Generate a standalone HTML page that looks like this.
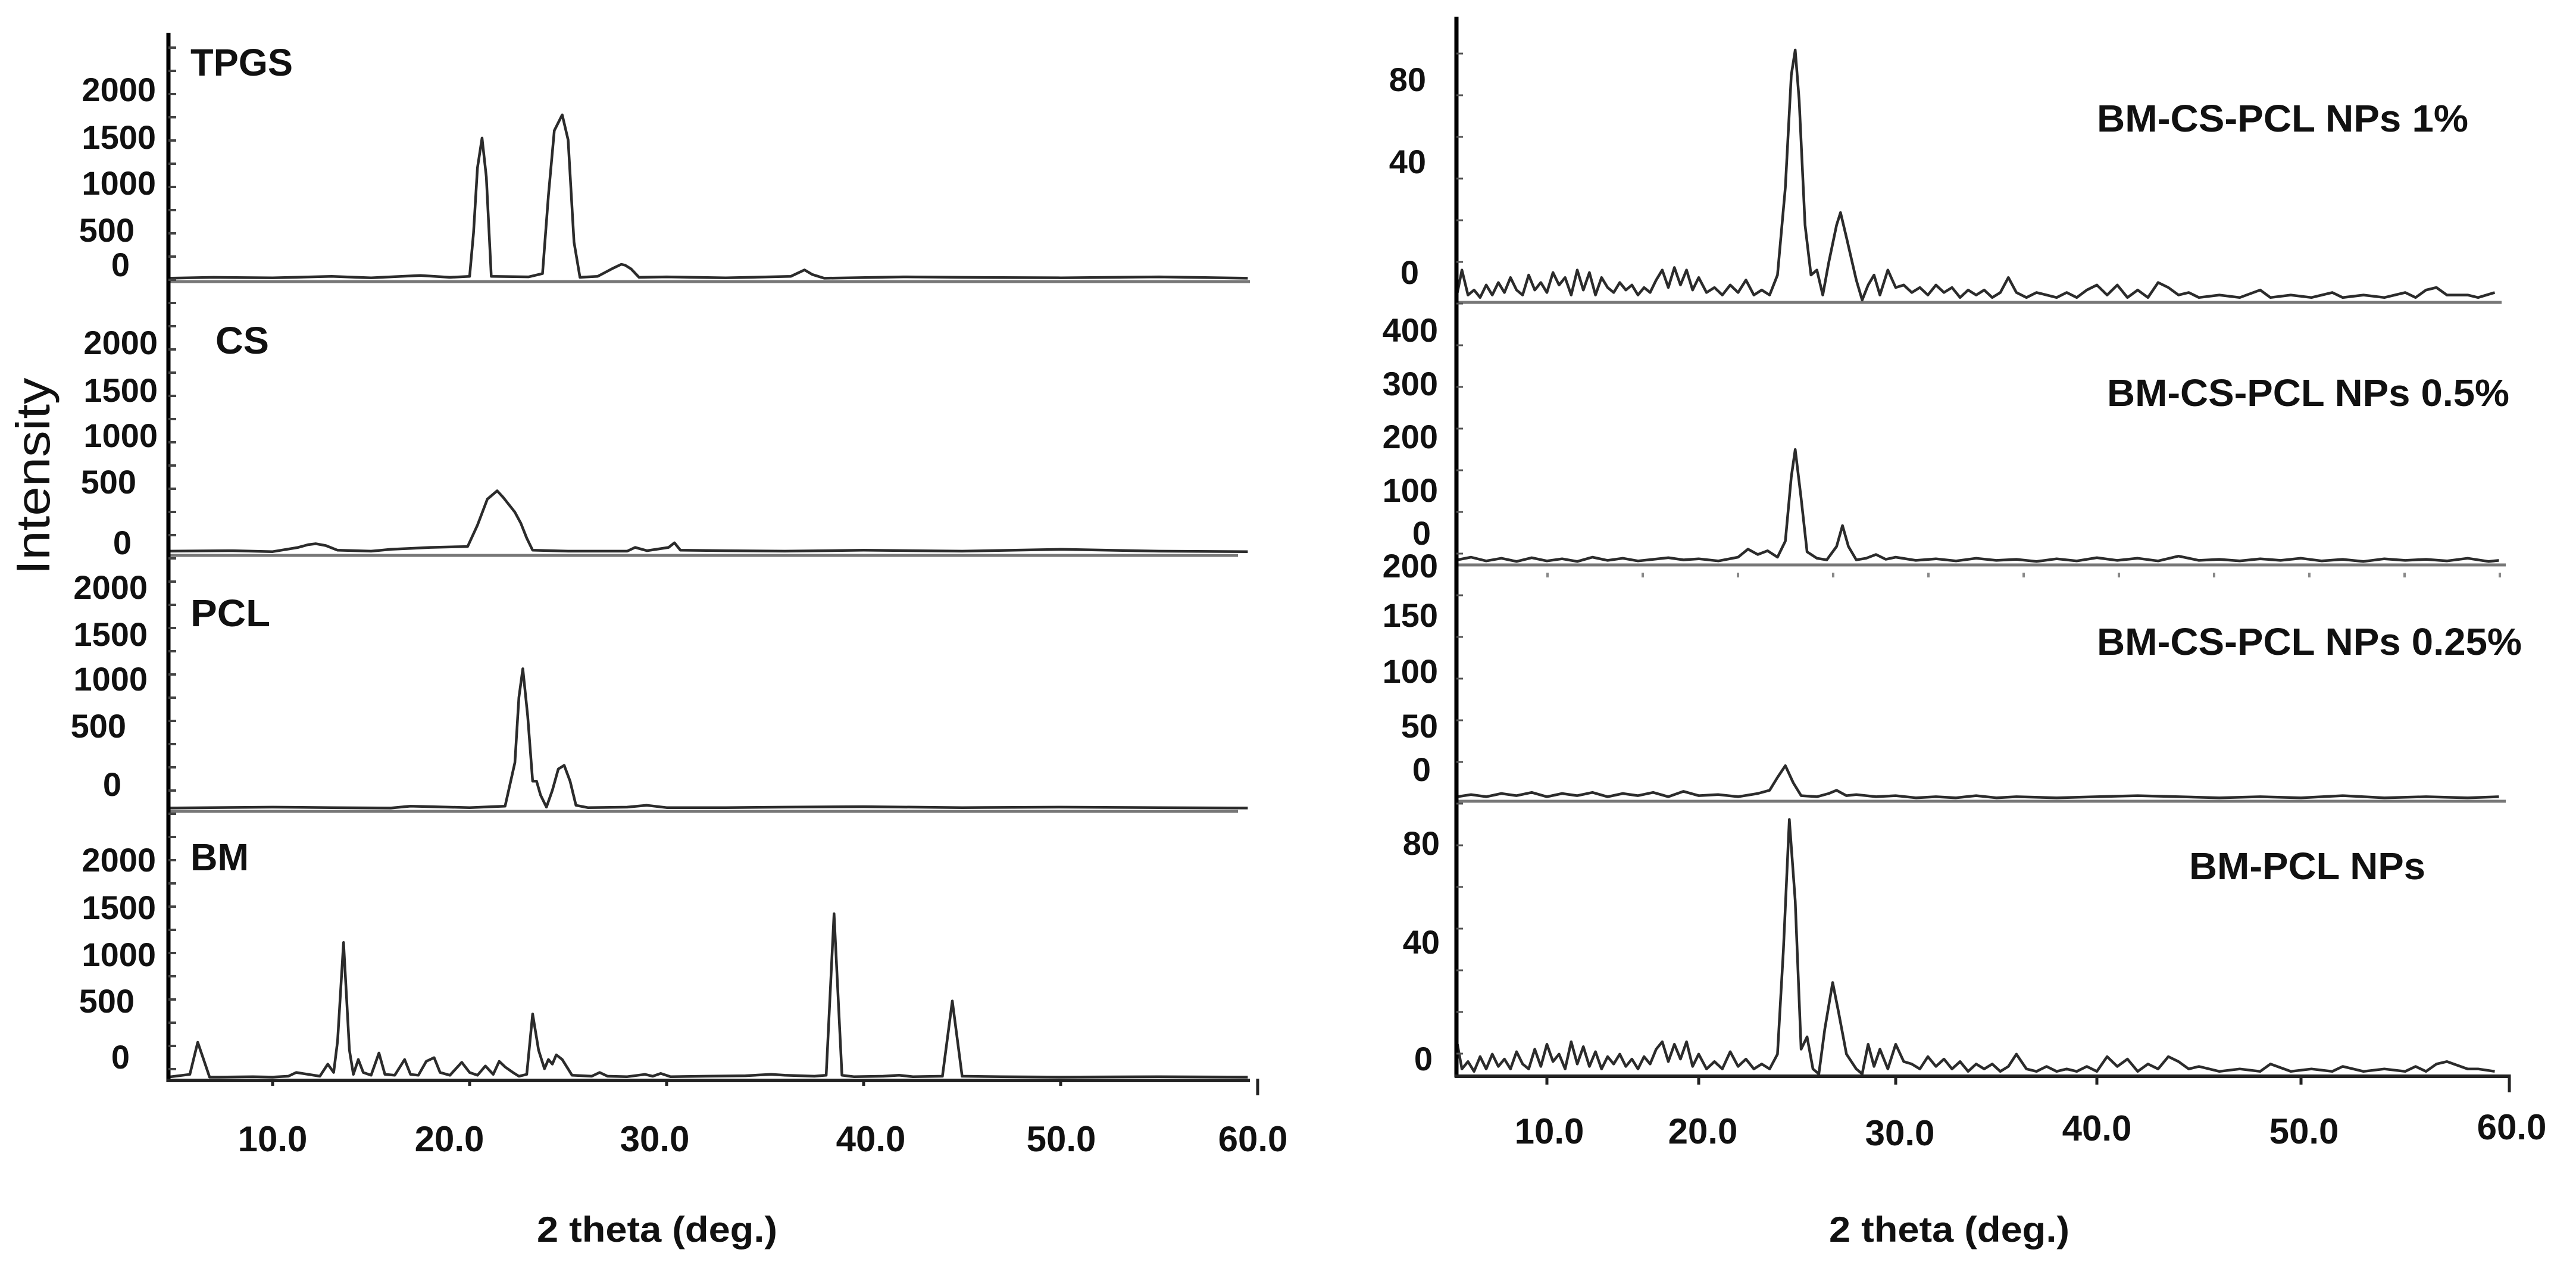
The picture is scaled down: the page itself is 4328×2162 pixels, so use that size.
<!DOCTYPE html>
<html><head><meta charset="utf-8"><style>
html,body{margin:0;padding:0;background:#fff;}
svg{display:block;font-family:"Liberation Sans",Arial,sans-serif;}
</style></head><body>
<svg id="fig" width="4328" height="2162" viewBox="0 0 4328 2162" xmlns="http://www.w3.org/2000/svg">
<rect width="4328" height="2162" fill="#fff"/>
<g id="left"></g>
<g id="right"></g>
</svg>
<script>
// ---------- DATA: left chart ----------
const tpgsTheta = [4.7,7,10,13,15,17.5,19,20,20.2,20.4,20.63,20.85,21.1,23,23.7,24.0,24.3,24.7,25.0,25.3,25.6,26.5,27.3,27.7,27.9,28.2,28.6,30,33,36.3,36.7,37.0,37.4,38,42,45,50,55,59.5];
const tpgsVals  = [10,20,15,30,15,40,20,30,500,1200,1520,1100,30,25,60,900,1600,1770,1500,400,20,30,120,160,150,110,20,25,15,30,70,100,50,10,25,20,15,25,10];
const csTheta = [4.7,8,10,11.3,11.8,12.2,12.7,13.3,15,16,17,18,19.9,20.4,20.9,21.4,21.7,22.0,22.3,22.6,22.9,23.2,25,28,28.4,29,30.1,30.4,30.7,33,36,40,45,50,55,59.5];
const csVals  = [20,25,15,60,90,100,80,30,20,40,50,60,70,300,580,670,600,520,440,320,160,30,20,20,60,25,60,110,30,25,20,30,20,40,20,15];
const pclTheta = [4.7,10,13,16,17,20,21.8,22.3,22.5,22.7,22.95,23.2,23.4,23.6,23.9,24.2,24.5,24.8,25.1,25.4,26,28,29,30,33,36,40,45,50,55,59.5];
const pclVals  = [10,20,15,10,30,15,30,500,1200,1510,1000,300,300,150,20,200,430,470,300,40,15,20,40,15,15,20,25,15,20,15,10];
const bmTheta = [4.7,5.8,6.2,6.5,6.8,7.3,9,10,10.8,11.2,12.4,12.8,13.1,13.3,13.6,13.9,14.1,14.35,14.6,15.0,15.4,15.7,16.2,16.7,17.0,17.4,17.8,18.2,18.5,19.0,19.6,20.0,20.4,20.8,21.2,21.5,21.8,22.2,22.5,22.9,23.2,23.5,23.8,24.0,24.2,24.4,24.7,25.2,26.2,26.6,27.0,28.0,28.9,29.3,29.7,30.2,32,34,35.3,36,37.5,38.1,38.5,38.9,39.5,41.0,41.8,42.5,44.0,44.5,45.0,47,50,55,59.5];
const bmVals  = [10,40,385,200,10,10,15,10,20,60,20,150,60,400,1460,300,40,200,60,30,270,40,30,200,40,30,180,220,60,30,170,60,30,130,40,180,120,60,20,40,690,300,100,200,150,250,200,30,20,60,20,15,40,20,50,15,20,25,40,30,20,30,1770,30,15,20,30,15,20,830,20,15,10,15,10];

// ---------- DATA: right chart ----------
const r1Theta = [4.1,4.4,4.8,5.2,5.6,6,6.4,6.8,7.2,7.6,8,8.4,8.8,9.2,9.6,10,10.4,10.8,11.2,11.6,12,12.4,12.8,13.2,13.6,14,14.4,14.8,15.2,15.6,16,16.4,16.8,17.2,17.6,18,18.4,18.8,19.2,19.6,20,20.4,20.8,21.2,21.6,22,22.4,22.8,23.2,23.6,24,24.4,24.7,24.9,25.1,25.4,25.7,26,26.3,26.6,27,27.2,27.5,28,28.3,28.6,28.9,29.2,29.6,30,30.4,30.8,31.2,31.6,32,32.4,32.8,33.2,33.6,34,34.4,34.8,35.2,35.6,36,36.5,37,37.5,38,38.5,39,39.5,40,40.5,41,41.5,42,42.5,43,43.5,44,44.5,45,46,47,48,48.5,49.5,50.5,51.5,52,53,54,55,55.5,56,56.5,57,58,58.5,59.3];
const r1Vals  = [3,12,2,4,1,6,2,7,3,9,4,2,10,4,7,3,11,6,9,2,12,4,11,2,9,5,3,7,4,6,2,5,3,8,12,5,13,6,12,4,9,3,5,2,6,3,8,2,4,2,10,45,90,100,80,30,10,12,2,15,30,35,25,8,0,6,10,2,12,5,6,3,5,2,6,3,5,1,4,2,4,1,3,9,3,1,3,2,1,3,1,4,6,2,6,1,4,1,7,5,2,3,1,2,1,4,1,2,1,3,1,2,1,3,1,4,5,2,2,1,3];
const r2Theta = [4.1,5,6,7,8,9,10,11,12,13,14,15,16,17,18,19,20,21,22,22.5,23,23.5,24,24.4,24.7,24.9,25.2,25.5,26,26.5,27,27.3,27.6,28,28.5,29,29.5,30,31,32,33,34,35,36,37,38,39,40,41,42,43,44,45,46,47,48,49,50,51,52,53,54,55,56,57,58,59,59.5];
const r2Vals  = [5,10,3,8,2,9,3,7,2,10,4,8,3,6,9,5,7,3,10,25,15,22,10,40,160,211,120,20,8,5,30,69,30,5,8,15,6,10,4,7,3,8,4,6,2,7,3,9,4,8,3,12,4,6,3,7,4,8,3,6,2,7,4,6,3,8,2,4];
const r3Theta = [4.1,5,6,7,8,9,10,11,12,13,14,15,16,17,18,19,20,21,22,23,23.6,24.0,24.4,24.8,25.2,26,26.6,27,27.5,28,29,30,31,32,33,34,35,36,38,40,42,44,46,48,50,52,54,56,58,59.5];
const r3Vals  = [2,4,2,5,3,6,2,5,3,6,2,5,3,6,2,7,3,4,2,5,8,20,31,15,3,2,5,8,3,4,2,3,1,2,1,3,1,2,1,2,3,2,1,2,1,3,1,2,1,2];
const r4Theta = [4.1,4.4,4.8,5.2,5.6,6,6.4,6.8,7.2,7.6,8,8.4,8.8,9.2,9.6,10,10.4,10.8,11.2,11.6,12,12.4,12.8,13.2,13.6,14,14.4,14.8,15.2,15.6,16,16.4,16.8,17.2,17.6,18,18.4,18.8,19.2,19.6,20,20.4,20.8,21.2,21.6,22,22.4,22.8,23.2,23.6,24,24.3,24.6,24.9,25.2,25.5,25.8,26.1,26.4,26.8,27.1,27.5,28,28.3,28.6,28.9,29.2,29.6,30,30.4,30.8,31.2,31.6,32,32.4,32.8,33.2,33.6,34,34.4,34.8,35.2,35.6,36,36.5,37,37.5,38,38.5,39,39.5,40,40.5,41,41.5,42,42.5,43,43.5,44,44.5,45,46,47,48,48.5,49.5,50.5,51.5,52,53,54,55,55.5,56,56.5,57,58,58.5,59.3];
const r4Vals  = [12,2,5,1,7,2,8,3,6,2,9,4,2,10,3,12,5,8,2,13,4,11,3,9,2,7,4,8,3,6,2,7,4,10,13,5,12,6,13,3,8,2,5,2,9,3,6,2,4,2,8,50,103,70,10,15,2,0,18,37,25,8,2,0,12,3,10,2,12,5,4,2,7,3,6,2,5,1,4,2,4,1,3,8,2,1,3,1,2,1,3,1,7,3,6,1,4,2,7,5,2,3,1,2,1,4,1,2,1,3,1,2,1,3,1,4,5,2,2,1,3];

const leftTicks = ['2000','1500','1000','500','0'];
const r1Ticks = ['80','40','0'];
const r2Ticks = ['400','300','200','100','0'];
const r3Ticks = ['200','150','100','50','0'];
const r4Ticks = ['80','40','0'];
const xTickLabels = ['10.0','20.0','30.0','40.0','50.0','60.0'];
const xTickVals = [10,20,30,40,50,60];

// ---------- helpers ----------
const NS='http://www.w3.org/2000/svg';
function mk(parent,tag,attrs,txt){const e=document.createElementNS(NS,tag);for(const k in attrs)e.setAttribute(k,attrs[k]);if(txt!==undefined)e.textContent=txt;parent.appendChild(e);return e;}
const L=document.getElementById('left'), R=document.getElementById('right');

// left axis functions
function xL(t){return 458+(t-10)*33.1;}
const kL=0.156;
// right axis functions (piecewise through tick positions)
const rTickPx=[2599,2854,3185,3523,3866,4216];
function xR(t){
  if(t<=10) return rTickPx[0]+(t-10)*25.5;
  for(let i=0;i<5;i++){ if(t<=xTickVals[i+1]) return rTickPx[i]+(t-xTickVals[i])/10*(rTickPx[i+1]-rTickPx[i]); }
  return rTickPx[5]+(t-60)*35;
}

function drawSeries(g,name,xs,ys,xf,base,k){
  let pts=[];
  for(let i=0;i<xs.length;i++) pts.push(xf(xs[i]).toFixed(1)+','+(base-ys[i]*k).toFixed(1));
  const p=mk(g,'polyline',{points:pts.join(' '),fill:'none',stroke:'#2b2b2b','stroke-width':4.5,'stroke-linejoin':'round'});
  
  
}
function baseline(g,name,x1,x2,y){
  const l=mk(g,'line',{x1:x1,x2:x2,y1:y,y2:y,stroke:'#777','stroke-width':5});
  
  
}
function label(g,name,x,y,txt,size,anchor,len){
  const a={x:x,y:y,'font-size':size,'font-weight':'bold','text-anchor':anchor||'end','dominant-baseline':'middle',fill:'#111'};
  if(len){a.textLength=len;a.lengthAdjust='spacingAndGlyphs';}
  const t=mk(g,'text',a,txt);
  
  
  return t;
}

// ---------- LEFT ----------
const lBase=[473,933,1363,1815];
baseline(L,'tpgs-baseline',283,2100,lBase[0]);
baseline(L,'cs-baseline',283,2080,lBase[1]);
baseline(L,'pcl-baseline',283,2080,lBase[2]);
drawSeries(L,'tpgs-pattern',tpgsTheta,tpgsVals,xL,lBase[0]-4,kL);
drawSeries(L,'cs-pattern',csTheta,csVals,xL,lBase[1]-4,kL);
drawSeries(L,'pcl-pattern',pclTheta,pclVals,xL,lBase[2]-4,kL);
drawSeries(L,'bm-pattern',bmTheta,bmVals,xL,lBase[3]-4,kL);
// axes
let ya=mk(L,'line',{x1:283,x2:283,y1:55,y2:1818,stroke:'#000','stroke-width':7});

let xa=mk(L,'line',{x1:280,x2:2100,y1:1815,y2:1815,stroke:'#222','stroke-width':6});

for(let y=80;y<1800;y+=39){mk(L,'line',{x1:283,x2:296,y1:y,y2:y,stroke:'#444','stroke-width':4});}
const lTickLbl=[[155,235,312,391,449],[580,660,736,814,916],[991,1070,1145,1224,1322],[1449,1529,1608,1686,1780]];
const lTickRight=[262,265,248,262];
const lNames=['tpgs','cs','pcl','bm'];
for(let p=0;p<4;p++) for(let i=0;i<leftTicks.length;i++){
  const xr = lTickRight[p] - (leftTicks[i]==='500'?36:0) - (leftTicks[i]==='0'?44:0);
  label(L,lNames[p]+'-y-tick-'+leftTicks[i],xr,lTickLbl[p][i],leftTicks[i],56,'end');
}
label(L,'tpgs-label',320,110,'TPGS',64,'start',172);
label(L,'cs-label',362,577,'CS',64,'start',90);
label(L,'pcl-label',320,1035,'PCL',64,'start',134);
label(L,'bm-label',320,1445,'BM',64,'start',98);
const lXLblPx=[458,755,1100,1463,1783,2105];
for(let i=0;i<xTickVals.length;i++){
  mk(L,'line',{x1:xL(xTickVals[i]),x2:xL(xTickVals[i]),y1:1812,y2:(i==5?1840:1824),stroke:'#222','stroke-width':5});
  label(L,'left-x-tick-'+xTickVals[i],lXLblPx[i],1918,xTickLabels[i],60,'middle');
}
label(L,'left-x-axis-title',1104,2070,'2 theta (deg.)',60,'middle',404);
let it=mk(L,'text',{x:0,y:0,'font-size':80,'text-anchor':'middle','dominant-baseline':'middle',fill:'#111',transform:'translate(62,800) rotate(-90)',textLength:331,lengthAdjust:'spacingAndGlyphs'},'Intensity');


// ---------- RIGHT ----------
const rBase=[508,949,1346,1808];
const rK=[4.2,0.9,1.8,4.15];
baseline(R,'np1-baseline',2447,4203,rBase[0]);
baseline(R,'np05-baseline',2447,4210,rBase[1]);
baseline(R,'np025-baseline',2447,4210,rBase[2]);
drawSeries(R,'np1-pattern',r1Theta,r1Vals,xR,rBase[0]-4,rK[0]);
drawSeries(R,'np05-pattern',r2Theta,r2Vals,xR,rBase[1]-4,rK[1]);
drawSeries(R,'np025-pattern',r3Theta,r3Vals,xR,rBase[2]-4,rK[2]);
drawSeries(R,'bm-pcl-pattern',r4Theta,r4Vals,xR,rBase[3]-4,rK[3]);
ya=mk(R,'line',{x1:2447,x2:2447,y1:28,y2:1810,stroke:'#000','stroke-width':7});

xa=mk(R,'line',{x1:2444,x2:4216,y1:1808,y2:1808,stroke:'#222','stroke-width':6});

for(let y=90;y<1800;y+=70){mk(R,'line',{x1:2447,x2:2458,y1:y,y2:y,stroke:'#555','stroke-width':3});}
for(let i=0;i<12;i++){mk(R,'line',{x1:2600+i*160,x2:2600+i*160,y1:962,y2:970,stroke:'#888','stroke-width':4});}
const rTickSets=[r1Ticks,r2Ticks,r3Ticks,r4Ticks];
const rTickLbl=[[138,276,462],[559,649,738,828,900],[955,1038,1132,1224,1297],[1421,1587,1783]];
const rRight=[2396,2416,2416,2419];
const rNames=['np1','np05','np025','bm-pcl'];
for(let p=0;p<4;p++) for(let i=0;i<rTickSets[p].length;i++){
  const t=rTickSets[p][i];
  label(R,rNames[p]+'-y-tick-'+t,rRight[p]-(t.length===1?12:0),rTickLbl[p][i],t,56,'end');
}
label(R,'np1-label',3523,204,'BM-CS-PCL NPs 1%',64,'start',624);
label(R,'np05-label',3540,665,'BM-CS-PCL NPs 0.5%',64,'start',676);
label(R,'np025-label',3523,1083,'BM-CS-PCL NPs 0.25%',64,'start',714);
label(R,'bm-pcl-label',3678,1460,'BM-PCL NPs',64,'start',397);
const rXLblPx=[2603,2861,3192,3523,3871,4220];
const rXLblY=[1905,1905,1908,1900,1905,1898];
for(let i=0;i<xTickVals.length;i++){
  mk(R,'line',{x1:xR(xTickVals[i]),x2:xR(xTickVals[i]),y1:1805,y2:(i==5?1835:1822),stroke:'#222','stroke-width':5});
  label(R,'right-x-tick-'+xTickVals[i],rXLblPx[i],rXLblY[i],xTickLabels[i],60,'middle');
}
label(R,'right-x-axis-title',3275,2070,'2 theta (deg.)',60,'middle',404);
</script>
</body></html>
